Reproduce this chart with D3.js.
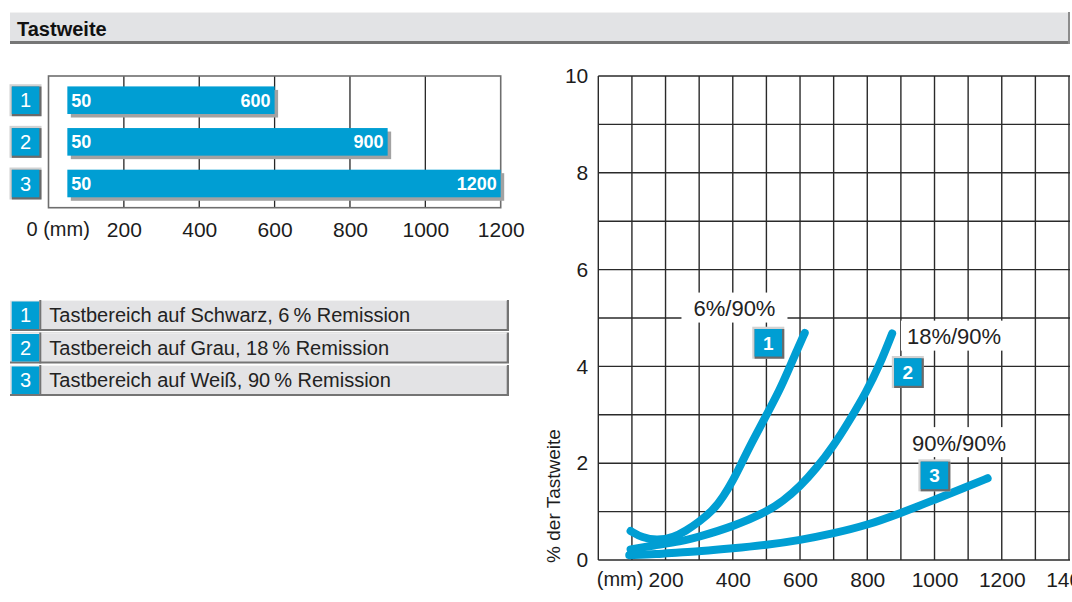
<!DOCTYPE html>
<html>
<head>
<meta charset="utf-8">
<script src="https://cdn.jsdelivr.net/npm/d3@7"></script>
<style>
  html, body { margin: 0; padding: 0; background: #fff; }
  svg { display: block; font-family: "Liberation Sans", Arial, sans-serif; }
</style>
</head>
<body>
<script>
// ---------- data ----------
const titleText = "Tastweite";

// bar chart (Tastbereich)
const barCats  = ["1", "2", "3"];
const barStart = [50, 50, 50];
const barEnd   = [600, 900, 1200];
const barTicks = [0, 200, 400, 600, 800, 1000, 1200];

// legend
const legendLabels = [
  "Tastbereich auf Schwarz, 6\u2009% Remission",
  "Tastbereich auf Grau, 18\u2009% Remission",
  "Tastbereich auf Weiß, 90\u2009% Remission"
];

// curve chart (% der Tastweite vs distance in mm)
const curveNames = ["6%/90%", "18%/90%", "90%/90%"];
const c1mm  = [96, 130, 175, 225, 260, 300, 342, 372, 401, 426, 456, 495, 540, 567, 590, 614];
const c1val = [0.60, 0.46, 0.40, 0.47, 0.60, 0.79, 1.03, 1.31, 1.65, 2.00, 2.42, 2.93, 3.52, 3.95, 4.32, 4.69];
const c2mm  = [96, 173, 243, 300, 400, 500, 550, 600, 648, 698, 747, 797, 837, 874];
const c2val = [0.22, 0.31, 0.38, 0.48, 0.69, 0.99, 1.22, 1.52, 1.89, 2.34, 2.88, 3.47, 4.03, 4.68];
const c3mm  = [92, 173, 243, 300, 400, 500, 600, 700, 800, 899, 999, 1099, 1158];
const c3val = [0.10, 0.12, 0.16, 0.18, 0.24, 0.31, 0.41, 0.55, 0.72, 0.97, 1.24, 1.52, 1.69];

const xTickValues = [0, 200, 400, 600, 800, 1000, 1200, 1400];
const yTickValues = [0, 2, 4, 6, 8, 10];
const yTitle = "% der Tastweite";

// annotation anchors (data units)
const labelMm  = [405, 1058, 1073];
const labelVal = [5.04, 4.46, 2.26];
const badgeMm  = [458, 873, 952];
const badgeVal = [4.82, 4.215, 2.08];

// ---------- style ----------
const BLUE = "#009ed3";
const TEXT = "#1c1c1c";

const svg = d3.select("body").append("svg")
  .attr("width", 1072).attr("height", 602);

// ---------- title bar ----------
svg.append("rect").attr("x", 10).attr("y", 12).attr("width", 1060).attr("height", 32).attr("fill", "#e2e3e5");
svg.append("rect").attr("x", 10).attr("y", 12).attr("width", 1060).attr("height", 1).attr("fill", "#f2f2f2");
svg.append("rect").attr("x", 10).attr("y", 41).attr("width", 1060).attr("height", 3).attr("fill", "#767676");
svg.append("rect").attr("x", 1068).attr("y", 12).attr("width", 2).attr("height", 32).attr("fill", "#8c8c8c");
svg.append("text").attr("x", 17).attr("y", 36)
  .attr("font-size", 20).attr("font-weight", "bold").attr("fill", "#111")
  .text(titleText);

// ---------- badge helper ----------
function badge(g, x0, y0, label, fs, fw) {
  g.append("rect").attr("x", x0).attr("y", y0).attr("width", 32).attr("height", 32).attr("fill", "#d2d2d2");
  g.append("rect").attr("x", x0 + 2.3).attr("y", y0 + 2.3).attr("width", 29.7).attr("height", 29.7).attr("fill", "#6a6a6a");
  g.append("rect").attr("x", x0 + 2.3).attr("y", y0 + 2.3).attr("width", 27.5).attr("height", 27.5).attr("fill", BLUE);
  g.append("text").attr("x", x0 + 2.3 + 13.75).attr("y", y0 + 2.3 + 13.75 + fs * 0.36)
    .attr("text-anchor", "middle").attr("font-size", fs).attr("font-weight", fw)
    .attr("fill", "#fff").text(label);
}

// ---------- bar chart ----------
const bx = d3.scaleLinear().domain([0, 1200]).range([48.5, 500.7]);
const by = d3.scaleBand().domain(barCats).range([76, 207.7]).paddingInner(0.337).paddingOuter(0.25);
const barG = svg.append("g");

barG.selectAll("line.bgrid").data(barTicks.filter(d => d > 0 && d < 1200)).join("line")
  .attr("x1", d => bx(d)).attr("x2", d => bx(d)).attr("y1", 76).attr("y2", 207.7)
  .attr("stroke", "#262626").attr("stroke-width", 1.3);
barG.append("rect").attr("x", bx(0)).attr("y", 76).attr("width", bx(1200) - bx(0)).attr("height", 131.7)
  .attr("fill", "none").attr("stroke", "#6e6e6e").attr("stroke-width", 1.6);

const bars = barCats.map((c, i) => ({ c, s: barStart[i], e: barEnd[i] }));
barG.selectAll("rect.shadow").data(bars).join("rect")
  .attr("x", d => bx(d.s) + 3.5).attr("y", d => by(d.c) + 3.5)
  .attr("width", d => bx(d.e) - bx(d.s)).attr("height", by.bandwidth())
  .attr("fill", "#a2a2a2");
barG.selectAll("rect.bar").data(bars).join("rect")
  .attr("x", d => bx(d.s)).attr("y", d => by(d.c))
  .attr("width", d => bx(d.e) - bx(d.s)).attr("height", by.bandwidth())
  .attr("fill", BLUE);
barG.selectAll("text.s").data(bars).join("text")
  .attr("x", d => bx(d.s) + 4).attr("y", d => by(d.c) + by.bandwidth() / 2 + 6.5)
  .attr("font-size", 18).attr("font-weight", "bold").attr("fill", "#fff").text(d => d.s);
barG.selectAll("text.e").data(bars).join("text")
  .attr("x", d => bx(d.e) - 4).attr("y", d => by(d.c) + by.bandwidth() / 2 + 6.5)
  .attr("text-anchor", "end")
  .attr("font-size", 18).attr("font-weight", "bold").attr("fill", "#fff").text(d => d.e);

barCats.forEach(c => badge(svg, 9.5, by(c) + by.bandwidth() / 2 - 16, c, 20, "normal"));

const bAxis = svg.append("g").attr("transform", "translate(0,207.7)")
  .call(d3.axisBottom(bx).tickValues(barTicks).tickSize(0).tickPadding(14)
    .tickFormat(d => d === 0 ? "0 (mm)" : d));
bAxis.select(".domain").remove();
bAxis.selectAll("text").attr("font-size", 21).attr("fill", TEXT).attr("font-family", "Liberation Sans, Arial, sans-serif");
bAxis.selectAll(".tick").filter(d => d === 0).select("text")
  .attr("text-anchor", "start").attr("x", -22.5).attr("font-size", 20);

// ---------- legend ----------
const legG = svg.append("g");
legendLabels.forEach((t, i) => {
  const y0 = 300 + i * 32.5;
  legG.append("rect").attr("x", 10).attr("y", y0).attr("width", 499).attr("height", 31).attr("fill", "#747474");
  legG.append("rect").attr("x", 10).attr("y", y0).attr("width", 496.7).attr("height", 29).attr("fill", "#e3e3e5");
  legG.append("rect").attr("x", 10).attr("y", y0).attr("width", 496.7).attr("height", 1).attr("fill", "#f4f4f4");
  legG.append("rect").attr("x", 11.7).attr("y", y0 + 1.5).attr("width", 27.6).attr("height", 27.5).attr("fill", BLUE);
  legG.append("rect").attr("x", 39.3).attr("y", y0).attr("width", 2).attr("height", 31).attr("fill", "#747474");
  legG.append("text").attr("x", 25.5).attr("y", y0 + 22).attr("text-anchor", "middle")
    .attr("font-size", 20).attr("fill", "#fff").text(barCats[i]);
  legG.append("text").attr("x", 49.3).attr("y", y0 + 22.3)
    .attr("font-size", 20).attr("fill", "#222").text(t);
});

// ---------- curve chart ----------
const x = d3.scaleLinear().domain([0, 1400]).range([598.3, 1069]);
const y = d3.scaleLinear().domain([0, 10]).range([560, 76]);
const cg = svg.append("g");

cg.selectAll("line.vg").data(x.ticks(14)).join("line")
  .attr("x1", d => x(d)).attr("x2", d => x(d)).attr("y1", y(0)).attr("y2", y(10))
  .attr("stroke", "#2a2a2a").attr("stroke-width", 1.4);
cg.selectAll("line.hg").data(y.ticks(10)).join("line")
  .attr("x1", x(0)).attr("x2", 1070).attr("y1", d => y(d)).attr("y2", d => y(d))
  .attr("stroke", "#2a2a2a").attr("stroke-width", 1.4);

// axes labels
const yAx = svg.append("g").attr("transform", `translate(${x(0)},0)`)
  .call(d3.axisLeft(y).tickValues(yTickValues).tickSize(0).tickPadding(10));
yAx.select(".domain").remove();
yAx.selectAll("text").attr("font-size", 21).attr("fill", TEXT).attr("font-family", "Liberation Sans, Arial, sans-serif");

const xAx = svg.append("g").attr("transform", `translate(0,${y(0)})`)
  .call(d3.axisBottom(x).tickValues(xTickValues).tickSize(0).tickPadding(12)
    .tickFormat(d => d === 0 ? "(mm)" : d));
xAx.select(".domain").remove();
xAx.selectAll("text").attr("font-size", 21).attr("fill", TEXT).attr("font-family", "Liberation Sans, Arial, sans-serif");
xAx.selectAll(".tick").filter(d => d === 0).select("text")
  .attr("text-anchor", "start").attr("x", -2).attr("font-size", 20);

svg.append("text")
  .attr("transform", "translate(553,496) rotate(-90)")
  .attr("text-anchor", "middle").attr("dominant-baseline", "central")
  .attr("font-size", 19).attr("fill", TEXT).text(yTitle);

// curve labels with white boxes
curveNames.forEach((n, i) => {
  const cx = x(labelMm[i]), base = y(labelVal[i]);
  cg.append("rect").attr("x", cx - 53).attr("y", base - 23.5).attr("width", 106).attr("height", 30).attr("fill", "#fff");
  cg.append("text").attr("x", cx).attr("y", base).attr("text-anchor", "middle")
    .attr("font-size", 22).attr("fill", "#222").text(n);
});

// curves
const series = [
  c1mm.map((m, i) => [m, c1val[i]]),
  c2mm.map((m, i) => [m, c2val[i]]),
  c3mm.map((m, i) => [m, c3val[i]])
];
const line = d3.line().x(d => x(d[0])).y(d => y(d[1])).curve(d3.curveBasis);
cg.selectAll("path.curve").data(series).join("path")
  .attr("d", line).attr("fill", "none").attr("stroke", BLUE)
  .attr("stroke-width", 8).attr("stroke-linecap", "round").attr("stroke-linejoin", "round");

// badges
barCats.forEach((c, i) => badge(cg, x(badgeMm[i]), y(badgeVal[i]), c, 19, "bold"));
</script>
</body>
</html>
